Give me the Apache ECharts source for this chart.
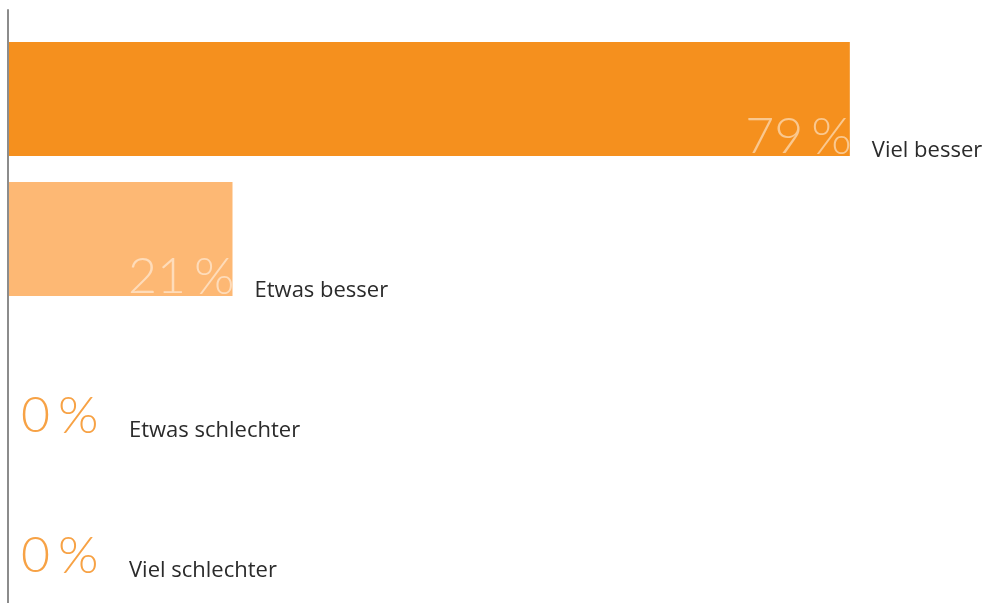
<!DOCTYPE html>
<html><head><meta charset="utf-8">
<script src="https://cdn.jsdelivr.net/npm/echarts@6/dist/echarts.min.js"></script>
<style>html,body{margin:0;padding:0;background:#fff}#c{width:985px;height:603px}</style>
</head><body><div id="c"></div>
<script>
const categories = ['Viel besser', 'Etwas besser', 'Etwas schlechter', 'Viel schlechter'];
const values = [79, 21, 0, 0];
const barColors = ['#F5901E', '#FDB874', '#FDB874', '#FDB874'];

const VFONT = 'Lato, "Open Sans", sans-serif';
const NFONT = '"Open Sans", Lato, sans-serif';
const valueData = values.map((v, i) => ({
  value: v,
  itemStyle: { color: barColors[i] },
  label: v > 0 ? {
    position: 'insideBottomRight', distance: 0, offset: [2, 9],
    color: 'rgba(255,255,255,0.5)'
  } : {
    position: 'insideBottomLeft', distance: 0, offset: [12, 8],
    color: '#F7A245'
  }
}));
const nameData = values.map((v, i) => ({
  value: v,
  label: {
    position: ['100%', '100%'], align: 'left', verticalAlign: 'bottom',
    offset: [v > 0 ? 22 : 120, 6]
  }
}));

const chart = echarts.init(document.getElementById('c'), null, { renderer: 'canvas' });
chart.setOption({
  animation: false,
  grid: [
    { left: 9, right: 0, top: 29, bottom: 14 },
    { left: 8, right: 0, top: 10, bottom: 0 }
  ],
  xAxis: [
    { type: 'value', gridIndex: 0, min: 0, max: 91.7, show: false },
    { type: 'value', gridIndex: 1, min: 0, max: 1, show: false }
  ],
  yAxis: [
    { type: 'category', gridIndex: 0, data: categories, inverse: true, show: false },
    { type: 'value', gridIndex: 1, min: 0, max: 1, axisLine: { show: true, lineStyle: { color: '#8C8C8C', width: 2 } },
      axisTick: { show: false }, axisLabel: { show: false }, splitLine: { show: false } }
  ],
  series: [
    {
      type: 'bar', xAxisIndex: 0, yAxisIndex: 0, barWidth: 114, barGap: '-100%',
      data: valueData,
      label: {
        show: true, formatter: p => '{d|' + p.value + '}{p|%}',
        fontFamily: VFONT, fontWeight: 300,
        rich: {
          d: { fontSize: 50, fontWeight: 300, fontFamily: VFONT, lineHeight: 56 },
          p: { fontSize: 52, fontWeight: 300, fontFamily: VFONT, lineHeight: 56, padding: [0, 0, 0, 8] }
        }
      },
      z: 2
    },
    {
      type: 'bar', xAxisIndex: 0, yAxisIndex: 0, barWidth: 114, barGap: '-100%',
      data: nameData,
      itemStyle: { color: 'rgba(0,0,0,0)' },
      label: { show: true, formatter: p => categories[p.dataIndex], fontSize: 22, color: '#2B2B2B', fontFamily: NFONT },
      z: 3
    }
  ]
});
</script></body></html>
